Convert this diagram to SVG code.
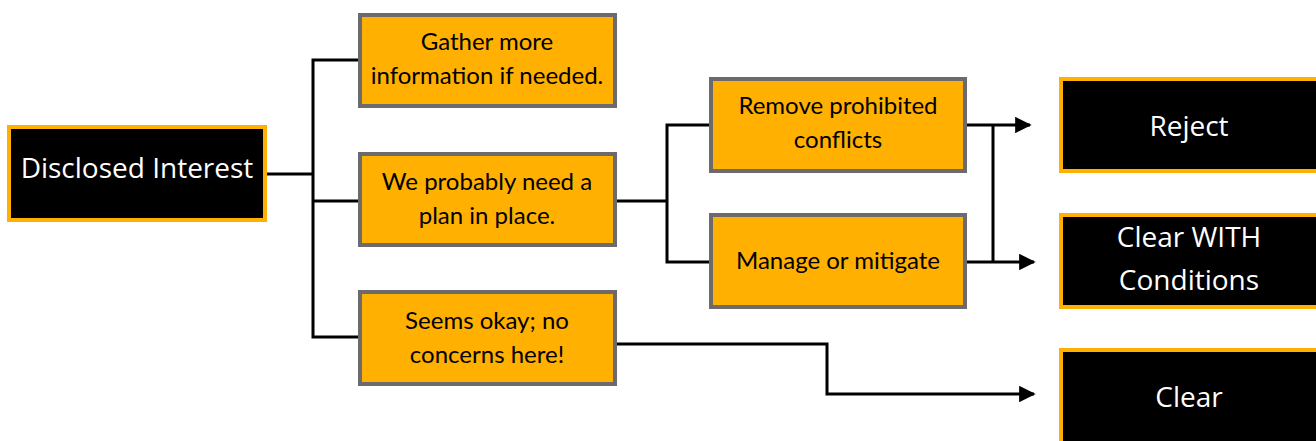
<svg xmlns="http://www.w3.org/2000/svg" width="1316" height="441" viewBox="0 0 1316 441">
<defs>
<style>
.dark rect{fill:#000;stroke:#FFB000;stroke-width:4}
.dark text{fill:#fff;font-family:"Open Sans",sans-serif;font-size:28px;text-anchor:middle}
.step rect{fill:#FFB000;stroke:#6b6b6b;stroke-width:4}
.step text{fill:#000;font-family:Lato,sans-serif;font-size:24px;text-anchor:middle}
.conn path{fill:none;stroke:#000;stroke-width:3}
</style>
<marker id="ah" viewBox="0 0 10 10" refX="9" refY="5" markerWidth="5.5" markerHeight="5.5" markerUnits="strokeWidth" orient="auto">
<path d="M0,0 L10,5 L0,10 z" fill="#000"/>
</marker>
</defs>
<rect width="1316" height="441" fill="#fff"/>
<g class="conn">
<path d="M267,174 H313"/>
<path d="M358,60 H313 V337 H358"/>
<path d="M313,201 H358"/>
<path d="M617,201 H667"/>
<path d="M709,125 H667 V262 H709"/>
<path d="M967,125 H1030" marker-end="url(#ah)"/>
<path d="M967,262 H1034" marker-end="url(#ah)"/>
<path d="M993,125 V262"/>
<path d="M617,344 H827 V394 H1034" marker-end="url(#ah)"/>
</g>
<g id="disclosed" class="dark">
<rect x="9" y="127" width="256" height="93"/>
<text x="137" y="178">Disclosed Interest</text>
</g>
<g id="gather" class="step">
<rect x="360" y="15" width="255" height="91"/>
<text x="487" y="50">Gather more</text>
<text x="487" y="84">information if needed.</text>
</g>
<g id="plan" class="step">
<rect x="360" y="154" width="255" height="91"/>
<text x="487" y="190">We probably need a</text>
<text x="487" y="224">plan in place.</text>
</g>
<g id="okay" class="step">
<rect x="360" y="292" width="255" height="92"/>
<text x="487" y="329">Seems okay; no</text>
<text x="487" y="363">concerns here!</text>
</g>
<g id="remove" class="step">
<rect x="711" y="79" width="254" height="92"/>
<text x="838" y="114">Remove prohibited</text>
<text x="838" y="148">conflicts</text>
</g>
<g id="manage" class="step">
<rect x="711" y="215" width="254" height="92"/>
<text x="838" y="269">Manage or mitigate</text>
</g>
<g id="reject" class="dark">
<rect x="1061" y="79" width="260" height="92"/>
<text x="1189" y="136">Reject</text>
</g>
<g id="clearwith" class="dark">
<rect x="1061" y="215" width="260" height="92"/>
<text x="1189" y="247">Clear WITH</text>
<text x="1189" y="290">Conditions</text>
</g>
<g id="clear" class="dark">
<rect x="1061" y="350" width="260" height="100"/>
<text x="1189" y="407">Clear</text>
</g>
</svg>
